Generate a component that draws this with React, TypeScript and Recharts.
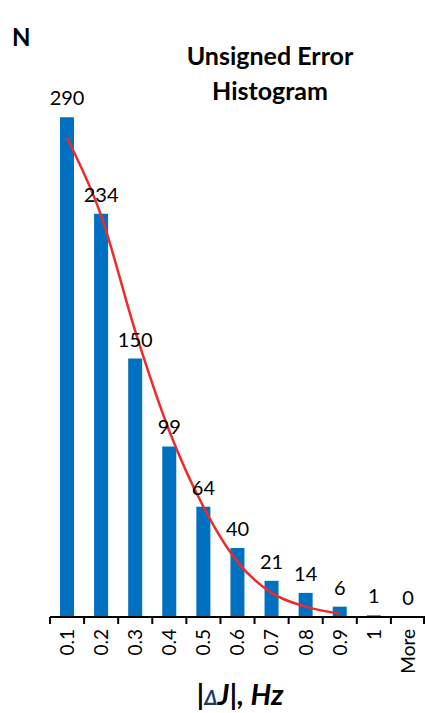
import React from 'react';
import { ComposedChart, Bar, Line, XAxis, YAxis, LabelList } from 'recharts';

const categories = ['0.1', '0.2', '0.3', '0.4', '0.5', '0.6', '0.7', '0.8', '0.9', '1', 'More'];
const counts = [290, 234, 150, 99, 64, 40, 21, 14, 6, 1, 0];
const fitCurve: (number | null)[] = [278, 233, 166, 108, 64, 32, 14, 6, 2, null, null];

const data = categories.map((c, i) => ({ bin: c, n: counts[i], fit: fitCurve[i] }));

const W = 425;
const H = 713;
const LEFT = 50;
const TOP = 14;
const XAXIS_H = 96;
const BAND = (W - LEFT) / categories.length;
const FONT = 'Lato, "Open Sans", sans-serif';

const Tick = (props: any) => {
  const { x, y, payload, index } = props;
  const half = BAND / 2;
  const isLast = index === categories.length - 1;
  return (
    <g>
      <line x1={x - half} y1={y} x2={x - half} y2={y + 7} stroke="#000" strokeWidth={2} />
      {isLast && <line x1={x + half - 1} y1={y} x2={x + half - 1} y2={y + 7} stroke="#000" strokeWidth={2} />}
      <g transform={`translate(${x},${y + 12})`}>
        <text transform="rotate(-90)" textAnchor="end" x={0} y={0} dy="0.36em" fontSize={19} fontFamily={FONT} fill="#000">
          {payload.value}
        </text>
      </g>
    </g>
  );
};

export default function App() {
  return (
    <div style={{ position: 'absolute', left: 0, top: 0, width: W, height: H, background: '#fff', fontFamily: FONT }}>
      <ComposedChart width={W} height={H} data={data} margin={{ top: TOP, right: 0, left: LEFT, bottom: 0 }}>
        <XAxis
          dataKey="bin"
          height={XAXIS_H}
          interval={0}
          tickLine={false}
          tickSize={0}
          tickMargin={0}
          axisLine={{ stroke: '#000', strokeWidth: 2 }}
          tick={<Tick />}
        />
        <YAxis
          width={0}
          domain={[0, 350]}
          tick={false}
          tickLine={false}
          axisLine={{ stroke: '#222', strokeWidth: 2 }}
        />
        <Bar dataKey="n" fill="#0070C0" barSize={14} isAnimationActive={false} />
        <Line
          dataKey="fit"
          type="monotone"
          stroke="#EE2A2A"
          strokeWidth={2.5}
          dot={false}
          activeDot={false}
          isAnimationActive={false}
        />
        <Line
          dataKey="n"
          stroke="none"
          dot={false}
          activeDot={false}
          legendType="none"
          isAnimationActive={false}
        >
          <LabelList dataKey="n" position="top" offset={12} fontSize={20} fontFamily={FONT} fill="#000" />
        </Line>
      </ComposedChart>
      <div style={{ position: 'absolute', left: 12, top: 22, fontSize: 24, fontWeight: 700, color: '#000' }}>N</div>
      <div
        style={{
          position: 'absolute',
          left: 160,
          width: 220,
          top: 38,
          textAlign: 'center',
          fontSize: 25,
          fontWeight: 700,
          lineHeight: '35px',
          color: '#000',
        }}
      >
        Unsigned Error
        <br />
        Histogram
      </div>
      <div
        style={{
          position: 'absolute',
          left: 140,
          width: 200,
          top: 676,
          textAlign: 'center',
          fontSize: 29,
          fontWeight: 700,
          fontStyle: 'italic',
          color: '#000',
          whiteSpace: 'nowrap',
        }}
      >
        |<span style={{ fontSize: 20, color: '#1a3a6a' }}>Δ</span>J|, Hz
      </div>
    </div>
  );
}
